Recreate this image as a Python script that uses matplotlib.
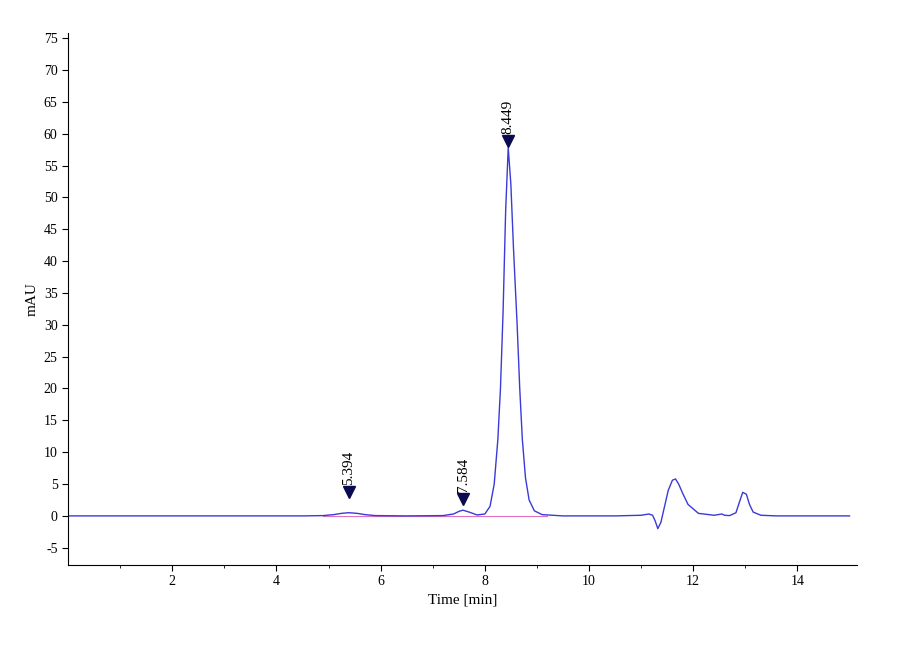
import matplotlib.pyplot as plt
import numpy as np

plt.rcParams['font.family'] = ['Liberation Serif', 'DejaVu Serif']
plt.rcParams['axes.unicode_minus'] = False

# chromatogram trace
times = [0, 4.5, 4.9, 5.1, 5.25, 5.39, 5.55, 5.7, 5.9, 6.5, 7.2, 7.4, 7.5, 7.58, 7.7, 7.85,
         8.0, 8.1, 8.18, 8.25, 8.3, 8.35, 8.4, 8.449, 8.5, 8.55, 8.62, 8.67, 8.72, 8.78,
         8.85, 8.95, 9.1, 9.5,
         10.5, 11.0, 11.15, 11.22, 11.27, 11.32, 11.38, 11.45, 11.52, 11.6, 11.66, 11.72,
         11.8, 11.9, 12.1, 12.4, 12.55, 12.6, 12.7, 12.82, 12.88, 12.95, 13.02, 13.08, 13.15,
         13.3, 13.6, 15.0]
signal = [0, 0, 0.05, 0.2, 0.4, 0.5, 0.4, 0.2, 0.05, 0, 0.05, 0.3, 0.7, 0.9, 0.6, 0.15,
          0.3, 1.5, 5, 12, 20, 32, 48, 57.8, 52, 42, 30, 20, 12, 6,
          2.5, 0.8, 0.2, 0,
          0, 0.1, 0.3, 0.1, -0.8, -2.0, -1.0, 1.5, 4.0, 5.6, 5.8, 5.0,
          3.5, 1.8, 0.4, 0.1, 0.3, 0.1, 0.05, 0.5, 2.0, 3.7, 3.4, 1.8, 0.6,
          0.1, 0, 0]

peak_times = [5.394, 7.584, 8.449]
peak_labels = ['5.394', '7.584', '8.449']
marker_heights = [2.8, 1.7, 57.9]

fig = plt.figure(figsize=(9, 6.6), dpi=100)
ax = fig.add_axes([0.0756, 0.144, 0.877, 0.806])

# integration baseline
ax.plot([4.9, 9.2], [0, 0], color='#e070c0', lw=0.8)
ax.plot(times, signal, color='#3a3ad8', lw=1.0)

for t, lab, h in zip(peak_times, peak_labels, marker_heights):
    ax.plot(t, h + 1.0, marker='v', color='#0a0a50', markersize=9, linestyle='none')
    ax.text(t, h + 2.0, lab, rotation=90, ha='center', va='bottom', fontsize=11)

ax.set_xlim(0, 15.15)
ax.set_ylim(-7.7, 75.8)
ax.set_xticks(np.arange(2, 15, 2))
ax.set_xticks(np.arange(1, 15, 1), minor=True)
ax.set_yticks(np.arange(-5, 76, 5))
ax.tick_params(labelsize=10, direction='out', length=4)
ax.tick_params(which='minor', length=2)
ax.spines['top'].set_visible(False)
ax.spines['right'].set_visible(False)
ax.set_xlabel('Time [min]', fontsize=11)
ax.set_ylabel('mAU', fontsize=11)

fig.savefig('out.png', dpi=100)
